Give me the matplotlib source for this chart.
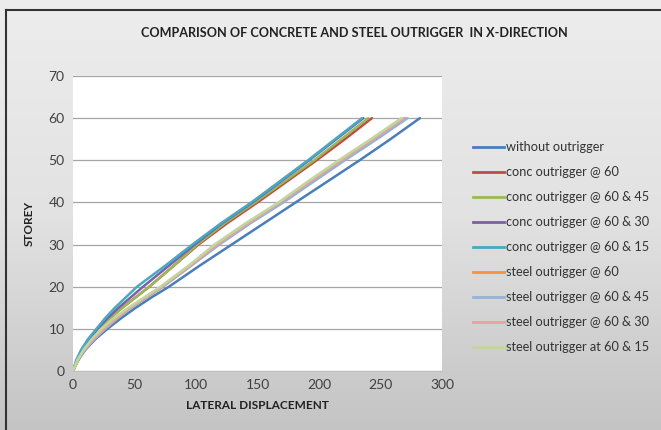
import numpy as np
import matplotlib
matplotlib.use("Agg")
import matplotlib.pyplot as plt
from matplotlib.lines import Line2D
from matplotlib.colors import LinearSegmentedColormap

plt.rcParams['font.family'] = ['Lato', 'DejaVu Sans']

storeys = [0, 2.5, 5, 7.5, 10, 12.5, 15, 17.5, 20, 25, 30, 35, 40, 45, 50, 55, 60]
without_outrigger = [0, 4, 10, 18, 28, 39, 51, 64, 78, 103, 129, 155, 181, 207, 233, 258, 282]
conc_60 = [0, 3.5, 8, 14, 21, 30, 40, 51, 62, 82, 102, 125, 150, 174, 198, 221, 243]
conc_60_45 = [0, 3.5, 8, 14, 21, 30, 40, 51, 62, 82, 101, 123, 148, 172, 196, 218, 240]
conc_60_30 = [0, 3, 7.5, 13, 20, 28, 37, 47, 57, 78, 99, 121, 146, 169, 192, 214, 236]
conc_60_15 = [0, 2.5, 6.5, 12, 19, 26, 34, 43, 52, 75, 97, 120, 145, 168, 191, 213, 235]
steel_60 = [0, 4, 9.5, 17, 26, 36, 47, 60, 73, 96, 118, 143, 170, 194, 219, 245, 270]
steel_60_45 = [0, 4, 9.5, 17, 26, 36, 47, 60, 73, 96, 119, 144, 171, 196, 221, 247, 272]
steel_60_30 = [0, 3.5, 9, 16, 25, 35, 46, 59, 72, 95, 117, 142, 168, 193, 218, 244, 269]
steel_60_15 = [0, 3.5, 8.5, 15, 23, 33, 45, 58, 71, 94, 115, 140, 167, 191, 216, 242, 267]

labels = ["without outrigger", "conc outrigger @ 60", "conc outrigger @ 60 & 45",
          "conc outrigger @ 60 & 30", "conc outrigger @ 60 & 15", "steel outrigger @ 60",
          "steel outrigger @ 60 & 45", "steel outrigger @ 60 & 30", "steel outrigger at 60 & 15"]
series = [without_outrigger, conc_60, conc_60_45, conc_60_30, conc_60_15,
          steel_60, steel_60_45, steel_60_30, steel_60_15]
colors = ["#4A7EBB", "#BE4B48", "#98B954", "#7D60A0", "#46AAC5",
          "#F69240", "#95B3D7", "#E6A3A1", "#C3D69B"]
xticks = [0, 50, 100, 150, 200, 250, 300]
yticks = [0, 10, 20, 30, 40, 50, 60, 70]

fig = plt.figure(figsize=(6.61, 4.30), dpi=100)

# gradient background
bg = fig.add_axes([0, 0, 1, 1], zorder=-10)
grad = np.linspace(0, 1, 256).reshape(-1, 1)
cmap = LinearSegmentedColormap.from_list("g", ["#EDEDED", "#E2E2E2", "#C4C4C4"])
bg.imshow(grad, aspect='auto', cmap=cmap, extent=[0, 1, 0, 1], origin='upper')
bg.set_xlim(0, 1); bg.set_ylim(0, 1)
bg.axis('off')
bg.plot([6/661, 6/661], [0, 1 - 10/430], color='#333333', lw=1.5)
bg.plot([6/661, 1], [1 - 10/430, 1 - 10/430], color='#333333', lw=1.5)

ax = fig.add_axes([73/661, 59/430, 369/661, 295/430])
ax.set_facecolor('white')
for s, c, l in zip(series, colors, labels):
    ax.plot(s, storeys, color=c, lw=1.8, label=l, solid_capstyle='round')

ax.set_xlim(0, 300)
ax.set_ylim(0, 70)
ax.set_xticks(xticks)
ax.set_yticks(yticks)
ax.tick_params(length=0, labelsize=10, colors='#404040', pad=6)
ax.grid(axis='y', color='#A6A6A6', lw=0.9)
ax.set_axisbelow(True)
for sp in ['top', 'right', 'left']:
    ax.spines[sp].set_visible(False)
ax.spines['bottom'].set_color('#BFBFBF')

ax.set_xlabel("LATERAL DISPLACEMENT", fontsize=8.5, fontweight='bold', color='#222222', labelpad=6)
ax.set_ylabel("STOREY", fontsize=8.5, fontweight='bold', color='#222222', labelpad=10)

fig.text(354/661, 1 - 33/430, "COMPARISON OF CONCRETE AND STEEL OUTRIGGER  IN X-DIRECTION",
         ha='center', va='center', fontsize=9.1, fontweight='bold', color='#222222')

handles = [Line2D([0], [0], color=c, lw=2) for c in colors]
fig.legend(handles, labels, loc='upper left', bbox_to_anchor=(468/661, 1 - 136/430),
           frameon=False, fontsize=9.2, handlelength=2.4, handletextpad=0.2,
           labelspacing=1.02, borderaxespad=0, labelcolor='#333333')

fig.savefig("out.png", dpi=100)
